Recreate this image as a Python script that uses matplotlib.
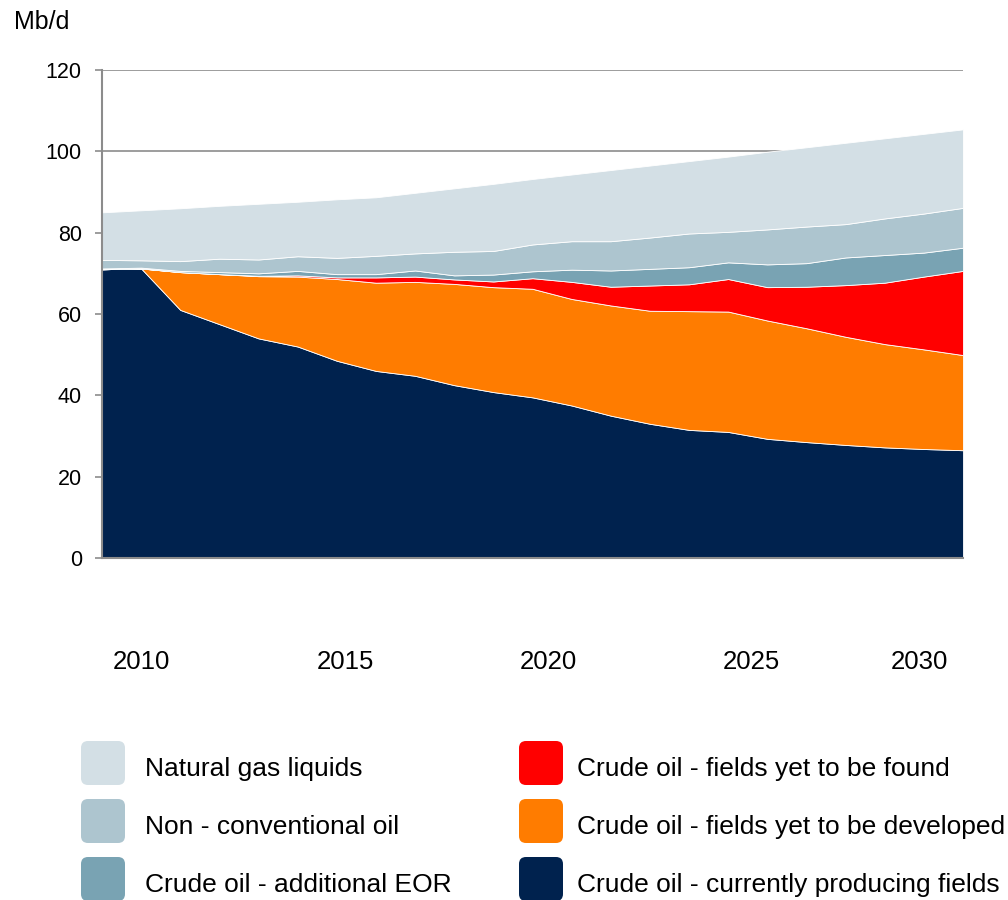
import matplotlib
matplotlib.use("Agg")
import matplotlib.pyplot as plt
from matplotlib.patches import FancyBboxPatch

years = list(range(2009, 2032))
currently_producing = [71.0, 71.2, 61.0, 57.5, 54.0, 52.0, 48.5, 46.0, 44.8, 42.5, 40.8, 39.5,
                       37.5, 35.0, 33.0, 31.5, 31.0, 29.3, 28.5, 27.8, 27.2, 26.8, 26.5]
yet_to_be_developed = [0.0, 0.0, 9.3, 12.3, 15.3, 17.2, 20.1, 21.7, 23.1, 24.9, 25.8, 26.7,
                       26.2, 27.1, 27.8, 29.2, 29.6, 29.1, 28.0, 26.6, 25.4, 24.5, 23.4]
yet_to_be_found = [0.0, 0.0, 0.0, 0.0, 0.1, 0.3, 0.4, 1.3, 1.3, 1.1, 1.4, 2.6,
                   4.2, 4.6, 6.2, 6.6, 8.0, 8.2, 10.2, 12.7, 15.1, 17.9, 20.7]
additional_eor = [0.2, 0.2, 0.3, 0.5, 0.6, 1.1, 0.8, 0.8, 1.5, 1.0, 1.7, 1.7,
                  3.0, 4.0, 4.1, 4.2, 4.1, 5.6, 5.8, 6.8, 6.8, 5.9, 5.7]
non_conventional = [2.1, 1.8, 2.4, 3.3, 3.4, 3.6, 4.0, 4.5, 4.2, 5.8, 5.8, 6.6,
                    7.0, 7.2, 7.7, 8.3, 7.5, 8.6, 9.0, 8.2, 9.0, 9.6, 9.8]
ngl = [11.7, 12.3, 13.0, 13.0, 13.7, 13.4, 14.4, 14.4, 14.9, 15.6, 16.5, 16.1,
       16.4, 17.5, 17.7, 17.8, 18.5, 19.1, 19.5, 20.0, 19.7, 19.6, 19.3]

series_labels = ["Crude oil - currently producing fields", "Crude oil - fields yet to be developed",
                 "Crude oil - fields yet to be found", "Crude oil - additional EOR",
                 "Non - conventional oil", "Natural gas liquids"]
colors = ["#00224E", "#FF7C00", "#FF0000", "#79A3B3", "#ADC5CF", "#D3DFE5"]

xtick_labels = ["2010", "2015", "2020", "2025", "2030"]
xtick_pos = [2010.02, 2015.21, 2020.41, 2025.58, 2029.89]
yticks = [0, 20, 40, 60, 80, 100, 120]

plt.rcParams['font.family'] = ["Liberation Sans", "DejaVu Sans"]

fig = plt.figure(figsize=(10.08, 9), dpi=100)
ax = fig.add_axes([102/1008, 1 - 558/900, (963 - 102)/1008, (558 - 70)/900])

ax.stackplot(years, currently_producing, yet_to_be_developed, yet_to_be_found,
             additional_eor, non_conventional, ngl, colors=colors,
             edgecolor="white", linewidth=0.6, zorder=2)

ax.set_xlim(2009, 2031)
ax.set_ylim(0, 120)
ax.set_yticks(yticks)
ax.set_yticklabels([str(v) for v in yticks], fontsize=15.5)
ax.yaxis.grid(True, color="#8C8C8C", linewidth=1.2, zorder=0)
ax.set_axisbelow(True)
ax.set_xticks(xtick_pos)
ax.set_xticklabels(xtick_labels, fontsize=18.5)
ax.tick_params(axis="x", length=0, pad=66)
ax.tick_params(axis="y", length=5, width=1.2, color="#8C8C8C", pad=9.5)
for s in ["top", "right"]:
    ax.spines[s].set_visible(False)
for s in ["left", "bottom"]:
    ax.spines[s].set_color("#8C8C8C")
    ax.spines[s].set_linewidth(1.5)
    ax.spines[s].set_zorder(3)

fig.text(14/1008, 1 - 29/900, "Mb/d", fontsize=18, ha="left", va="baseline")

# legend drawn in pixel coordinates
lax = fig.add_axes([0, 0, 1, 1])
lax.set_xlim(0, 1008)
lax.set_ylim(900, 0)
lax.axis("off")
legend_order = [(5, 0, 0), (4, 0, 1), (3, 0, 2), (2, 1, 0), (1, 1, 1), (0, 1, 2)]
col_x = [81, 519]
text_x = [145, 577]
row_y = [741, 799, 857]
for idx, col, row in legend_order:
    lax.add_patch(FancyBboxPatch((col_x[col] + 3, row_y[row] + 3), 38, 38,
                                 boxstyle="round,pad=3,rounding_size=7",
                                 facecolor=colors[idx], edgecolor="none"))
    lax.text(text_x[col], row_y[row] + 35, series_labels[idx], fontsize=19,
             ha="left", va="baseline")

fig.savefig("out.png", dpi=100)
